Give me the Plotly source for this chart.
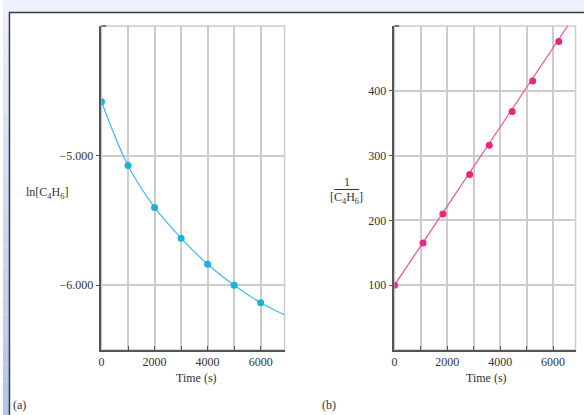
import plotly.graph_objects as go

# ---- data ----
time_a = [0, 1000, 2000, 3000, 4000, 5000, 6000]
ln_conc = [-4.585, -5.077, -5.400, -5.637, -5.838, -6.000, -6.135]
curve_t = [0, 1000, 2000, 3000, 4000, 5000, 6000, 6900]
curve_ln = [-4.585, -5.077, -5.400, -5.637, -5.838, -6.000, -6.135, -6.228]

time_b = [0, 1080, 1830, 2846, 3585, 4450, 5227, 6216]
inv_conc = [100, 165, 210, 271, 316, 368, 415, 476]
fit_t = [0, 6550]
fit_inv = [100, 500]

x_tickvals = [0, 1000, 2000, 3000, 4000, 5000, 6000]
x_ticktext = ["0", "", "2000", "", "4000", "", "6000"]
ya_tickvals = [-5, -6]
ya_ticktext = ["\u22125.000", "\u22126.000"]
yb_tickvals = [100, 200, 300, 400]
yb_ticktext = ["100", "200", "300", "400"]

W, H = 584, 415
FONT = "Liberation Serif"
TXT = "#333333"
GRID = "#CCCCCC"
AXIS = "#555555"
BG = "#FDF8DE"
CYAN = "#1BB0E0"
PINK = "#E8287C"

fig = go.Figure()
fig.add_trace(go.Scatter(x=curve_t, y=curve_ln, mode="lines", line=dict(color="#38BFE6", width=1.2, shape="spline"),
                         xaxis="x", yaxis="y", hoverinfo="skip"))
fig.add_trace(go.Scatter(x=time_a, y=ln_conc, mode="markers", marker=dict(color=CYAN, size=7),
                         xaxis="x", yaxis="y"))
fig.add_trace(go.Scatter(x=fit_t, y=fit_inv, mode="lines", line=dict(color="#F0508C", width=1.2),
                         xaxis="x2", yaxis="y2", hoverinfo="skip"))
fig.add_trace(go.Scatter(x=time_b, y=inv_conc, mode="markers", marker=dict(color=PINK, size=7),
                         xaxis="x2", yaxis="y2"))

def px_x(p):
    return p / W

def px_y(p):
    return 1 - p / H

xa_dom = [px_x(99), px_x(283)]
xb_dom = [px_x(393.5), px_x(575.5)]
y_dom = [px_y(350), px_y(26)]

xcommon = dict(tickmode="array", tickvals=x_tickvals, ticktext=x_ticktext,
               showgrid=True, gridcolor=GRID, gridwidth=1.5, zeroline=False,
               showline=True, linecolor=AXIS, linewidth=1.5,
               ticks="inside", ticklen=4, tickcolor=AXIS, tickwidth=1,
               tickfont=dict(family=FONT, size=12, color=TXT), fixedrange=True)
ycommon = dict(showgrid=True, gridcolor=GRID, gridwidth=1.5, zeroline=False,
               showline=True, linecolor=AXIS, linewidth=1.5,
               ticks="outside", ticklen=4, tickcolor=AXIS, tickwidth=1,
               tickfont=dict(family=FONT, size=12, color=TXT), fixedrange=True)

shapes = []
# background strips
shapes.append(dict(type="rect", xref="paper", yref="paper", x0=0, x1=1, y0=px_y(13), y1=1,
                   fillcolor="#EDF1FB", line=dict(width=0), layer="below"))
n = 24
top_c = (0xE9, 0xEE, 0xFA)
bot_c = (0xB3, 0xC5, 0xEE)
for i in range(n):
    f = i / (n - 1)
    c = tuple(int(top_c[k] + (bot_c[k] - top_c[k]) * f) for k in range(3))
    shapes.append(dict(type="rect", xref="paper", yref="paper", x0=0, x1=px_x(7),
                       y0=px_y(13 + (H - 13) * (i + 1) / n), y1=px_y(13 + (H - 13) * i / n),
                       fillcolor="rgb(%d,%d,%d)" % c, line=dict(width=0), layer="below"))
# panel border
shapes.append(dict(type="rect", xref="paper", yref="paper", x0=px_x(6.5), x1=px_x(600), y0=px_y(430), y1=px_y(12.5),
                   fillcolor="white", line=dict(color="#3A3A3A", width=1.5), layer="below"))
# plot frames (light top/right borders)
for xr, yr in (("x", "y"), ("x2", "y2")):
    shapes.append(dict(type="rect", xref=xr + " domain", yref=yr + " domain", x0=0, x1=1, y0=0, y1=1,
                       line=dict(color=GRID, width=1.5), layer="below"))
    # small dark tick at the top of each y axis
    shapes.append(dict(type="line", xref=xr + " domain", yref=yr + " domain", x0=0, x1=0.025, y0=1, y1=1,
                       line=dict(color=AXIS, width=1.5)))
# fraction bar for the right y title
shapes.append(dict(type="line", xref="paper", yref="paper", x0=px_x(333), x1=px_x(358),
                   y0=px_y(189.5), y1=px_y(189.5), line=dict(color=TXT, width=1)))

ann_font = dict(family=FONT, size=12, color=TXT)

def ann(text, x, y):
    return dict(text=text, x=px_x(x), y=px_y(y), xref="paper", yref="paper", showarrow=False,
                xanchor="center", yanchor="middle", font=ann_font)

annotations = [
    ann("Time (s)", 194, 378),
    ann("Time (s)", 486, 378),
    ann("ln[C<sub>4</sub>H<sub>6</sub>]", 44, 193),
    ann("1", 345.5, 182),
    ann("[C<sub>4</sub>H<sub>6</sub>]", 345.5, 198),
    ann("(a)", 17, 405),
    ann("(b)", 328, 405),
]

fig.update_layout(
    width=W, height=H, margin=dict(l=0, r=0, t=0, b=0),
    paper_bgcolor="white", plot_bgcolor=BG, showlegend=False,
    xaxis=dict(domain=xa_dom, range=[0, 6900], anchor="y", **xcommon),
    yaxis=dict(domain=y_dom, range=[-6.5, -4.0], anchor="x", tickmode="array",
               tickvals=ya_tickvals, ticktext=ya_ticktext, **ycommon),
    xaxis2=dict(domain=xb_dom, range=[0, 6850], anchor="y2", **xcommon),
    yaxis2=dict(domain=y_dom, range=[0, 500], anchor="x2", tickmode="array",
                tickvals=yb_tickvals, ticktext=yb_ticktext, **ycommon),
    shapes=shapes, annotations=annotations,
)

fig.write_html("out.html", config={"displayModeBar": False},
               post_script="document.body.style.margin='0';document.body.style.overflow='hidden';")
